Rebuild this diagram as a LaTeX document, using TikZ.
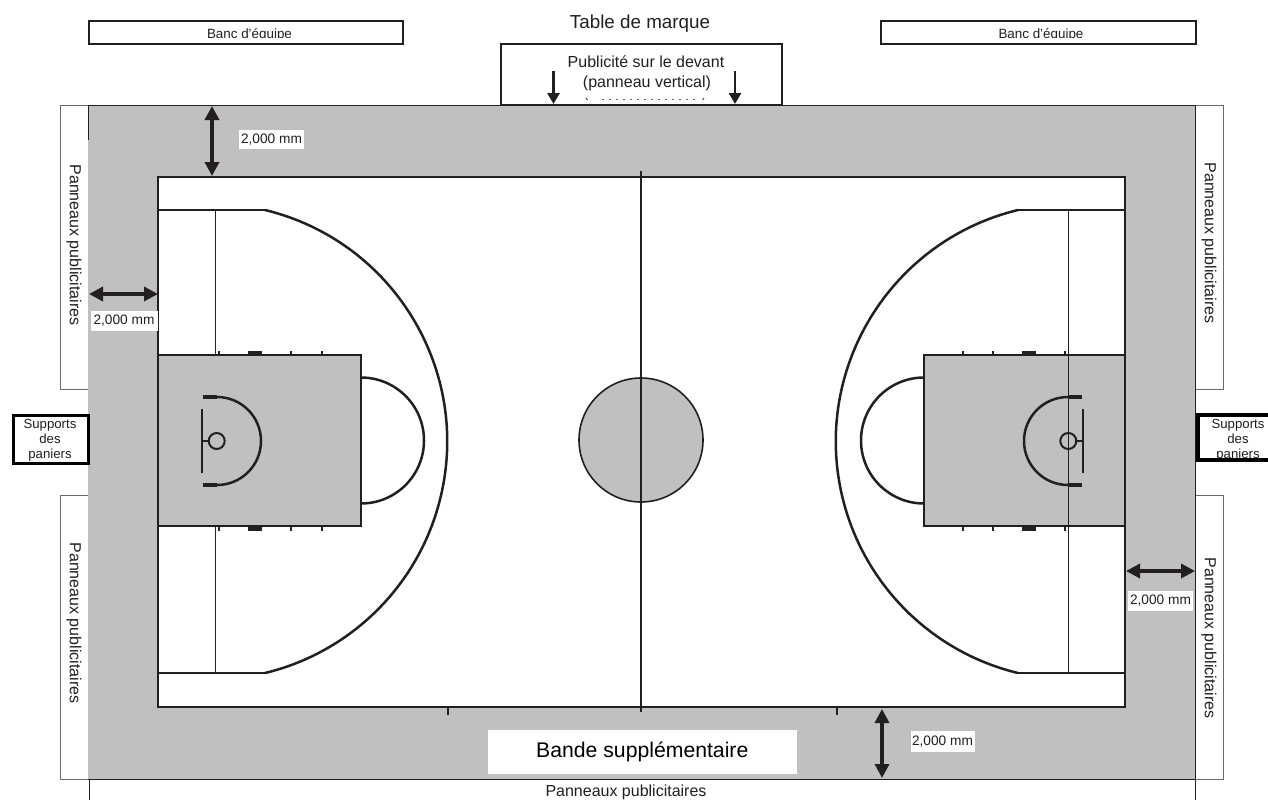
\documentclass[tikz,border=0pt]{standalone}
\usepackage{fontspec}
\setmainfont{Liberation Sans}
\usetikzlibrary{arrows.meta}
\definecolor{band}{HTML}{C0C0C0}
\definecolor{ink}{HTML}{231F20}
\definecolor{edge}{HTML}{6A6A6A}
\tikzset{
  x=1pt,y=1pt,
  lab/.style={inner sep=0pt,text=ink,font=\fontsize{16}{20}\selectfont,align=center},
  dimlab/.style={fill=white,inner sep=0pt,text=ink,font=\fontsize{13.7}{16}\selectfont,anchor=center},
  panel/.style={draw=edge,line width=1pt,fill=white},
  courtline/.style={draw=ink,line width=2.7pt},
  arcline/.style={draw=ink,line width=2.5pt},
  thinline/.style={draw=ink,line width=0.8pt},
  dimarrow/.style={draw=ink,line width=3.4pt,{Triangle[length=14pt,width=14pt]}-{Triangle[length=14pt,width=14pt]}},
  downarrow/.style={draw=ink,line width=2.8pt,-{Triangle[length=11pt,width=12pt]}}
}
\begin{document}
\begin{tikzpicture}
\useasboundingbox (0,0) rectangle (1268,-800);
\fill[white] (0,0) rectangle (1268,-800);
% side panels
\draw[panel] (60,-105) rectangle (88,-389);
\draw[panel] (60,-495) rectangle (88,-779);
\draw[panel] (1195,-105) rectangle (1223,-389);
\draw[panel] (1195,-495) rectangle (1223,-779);
% table
\draw[draw=ink,line width=2pt,fill=white] (501,-44) rectangle (782,-105);
% band
\fill[band] (88,-105) rectangle (1195,-779);
\draw[ink,line width=1pt] (88,-105) -- (1195,-105) -- (1195,-779) -- (88,-779);
\draw[ink,line width=1pt] (89,-779) -- (89,-800);
\draw[ink,line width=1pt] (1195,-779) -- (1195,-800);
\draw[ink,line width=1pt] (88,-105) -- (88,-140);
% court
\draw[courtline,fill=white] (158,-177) rectangle (1125,-707);
% ticks
\foreach \x in {219,291,321.5,963,993,1065}{
  \draw[ink,line width=2pt] (\x,-350.5) -- (\x,-355);
  \draw[ink,line width=2pt] (\x,-526) -- (\x,-531);
}
\foreach \x in {248,1022}{
  \fill[ink] (\x,-350.5) rectangle (\x+14,-355);
  \fill[ink] (\x,-526) rectangle (\x+14,-531);
}
\draw[ink,line width=2pt] (447.5,-707) -- (447.5,-715);
\draw[ink,line width=2pt] (837,-707) -- (837,-715);
% three-point areas
\draw[thinline] (215,-210) -- (215,-673);
\draw[courtline,line width=2.6pt] (158,-210) -- (215,-210);
\draw[courtline,line width=2.6pt] (158,-673) -- (215,-673);
\draw[ink,line width=1.6pt] (215,-210) -- (265,-210);
\draw[ink,line width=1.6pt] (215,-673) -- (265,-673);
\draw[arcline] (265,-210) arc[start angle=76.4,end angle=-76.4,radius=238.2];
\draw[courtline,line width=2.6pt] (1125,-210) -- (1068,-210);
\draw[courtline,line width=2.6pt] (1125,-673) -- (1068,-673);
\draw[ink,line width=1.6pt] (1068,-210) -- (1018,-210);
\draw[ink,line width=1.6pt] (1068,-673) -- (1018,-673);
\draw[arcline] (1018,-210) arc[start angle=103.6,end angle=256.4,radius=238.2];
% keys
\draw[courtline,fill=band] (158,-355) rectangle (361,-526);
\draw[courtline,fill=band] (924,-355) rectangle (1125,-526);
\draw[arcline] (361,-377.5) arc[start angle=90,end angle=-90,radius=63];
\draw[arcline] (924,-377.5) arc[start angle=90,end angle=270,radius=63];
% left basket
\draw[arcline] (217,-397) arc[start angle=90,end angle=-90,radius=44];
\draw[ink,line width=3.6pt] (203,-397) -- (217,-397);
\draw[ink,line width=3.6pt] (203,-485) -- (217,-485);
\draw[arcline] (202,-409) -- (202,-473);
\draw[arcline] (202,-441) -- (208.5,-441);
\draw[ink,line width=2pt] (216.7,-441) circle[radius=8];
% right basket
\draw[arcline] (1068,-397) arc[start angle=90,end angle=270,radius=44];
\draw[ink,line width=3.6pt] (1068,-397) -- (1082,-397);
\draw[ink,line width=3.6pt] (1068,-485) -- (1082,-485);
\draw[arcline] (1083,-409) -- (1083,-473);
\draw[arcline] (1076.5,-441) -- (1083,-441);
\draw[ink,line width=2pt] (1068.3,-441) circle[radius=8];
\draw[thinline] (1068,-210) -- (1068,-673);
% centre
\draw[draw=ink,line width=1.6pt,fill=band] (641,-440) circle[radius=62];
\draw[courtline,line width=2.5pt] (641,-171) -- (641,-712);
% team benches
\draw[draw=ink,line width=2.4pt,fill=white] (89,-21) rectangle (403,-44);
\draw[draw=ink,line width=2.4pt,fill=white] (881,-21) rectangle (1196,-44);
\begin{scope}
\clip (200,-29) rectangle (310,-37.6);
\node[lab,font=\fontsize{13.4}{16}\selectfont,anchor=base] (banca) at (249.5,-38) {Banc d'équipe};
\end{scope}
\begin{scope}
\clip (990,-29) rectangle (1100,-37.6);
\node[lab,font=\fontsize{13.4}{16}\selectfont,anchor=base] (bancb) at (1041,-38) {Banc d'équipe};
\end{scope}
% scoring table text
\node[lab,font=\fontsize{18.8}{22}\selectfont,anchor=base] (table) at (640,-28.5) {Table de marque};
\node[lab,anchor=base] (pub) at (646,-67) {Publicité sur le devant};
\node[lab,anchor=base] (vert) at (647,-87) {(panneau vertical)};
\draw[edge,line width=0.7pt,dash pattern=on 2pt off 5pt] (602,-99) -- (695,-99);
\draw[ink,line width=0.7pt] (586,-98) -- (587.5,-100);
\draw[ink,line width=0.7pt] (704,-98) -- (702.5,-100);
\coordinate (ta) at (553.5,-71);
\coordinate (tb) at (553.5,-104);
\coordinate (tc) at (735,-71);
\coordinate (td) at (735,-104);
\draw[downarrow] (ta) -- (tb);
\draw[downarrow] (tc) -- (td);
% band label
\node[fill=white,minimum width=308.5pt,minimum height=43.5pt,inner sep=0pt,text=black,font=\fontsize{21.2}{25}\selectfont] (bande) at (642.3,-751.8) {Bande supplémentaire};
% dimension arrows
\coordinate (d1a) at (212,-106); \coordinate (d1b) at (212,-176);
\coordinate (d2a) at (89,-294); \coordinate (d2b) at (158,-294);
\coordinate (d3a) at (1126,-571); \coordinate (d3b) at (1195,-571);
\coordinate (d4a) at (882,-709); \coordinate (d4b) at (882,-778);
\draw[dimarrow] (d1a) -- (d1b);
\draw[dimarrow] (d2a) -- (d2b);
\draw[dimarrow] (d3a) -- (d3b);
\draw[dimarrow] (d4a) -- (d4b);
\node[dimlab,minimum width=65pt,minimum height=19.5pt] (l1) at (271.5,-139.5) {2,000 mm};
\node[dimlab,minimum width=67pt,minimum height=20pt] (l2) at (124,-321) {2,000 mm};
\node[dimlab,minimum width=65pt,minimum height=19.5pt] (l3) at (1160.5,-601) {2,000 mm};
\node[dimlab,minimum width=64pt,minimum height=21pt] (l4) at (942.5,-741.5) {2,000 mm};
% panel labels
\node[lab,rotate=-90] (pa) at (74,-245) {Panneaux publicitaires};
\node[lab,rotate=-90] (pb) at (74,-623) {Panneaux publicitaires};
\node[lab,rotate=-90] (pc) at (1209,-243) {Panneaux publicitaires};
\node[lab,rotate=-90] (pd) at (1209,-638) {Panneaux publicitaires};
\node[lab,anchor=base] (pe) at (626,-796) {Panneaux publicitaires};
% basket supports
\draw[draw=black,line width=3pt,fill=white] (13.5,-415) rectangle (88,-463);
\node[lab,font=\fontsize{13.2}{15}\selectfont] (sa) at (50,-440) {Supports\\des\\paniers};
\fill[white] (1198,-415) rectangle (1268,-460);
\node[lab,font=\fontsize{13.2}{15}\selectfont] (sb) at (1238,-440.5) {Supports\\des\\paniers};
\fill[white] (1198,-461) rectangle (1268,-470);
\fill[black] (1196,-413) rectangle (1200,-461);
\fill[black] (1196,-413) rectangle (1268,-416.5);
\fill[black] (1196,-458) rectangle (1268,-461.5);
\end{tikzpicture}
\end{document}
